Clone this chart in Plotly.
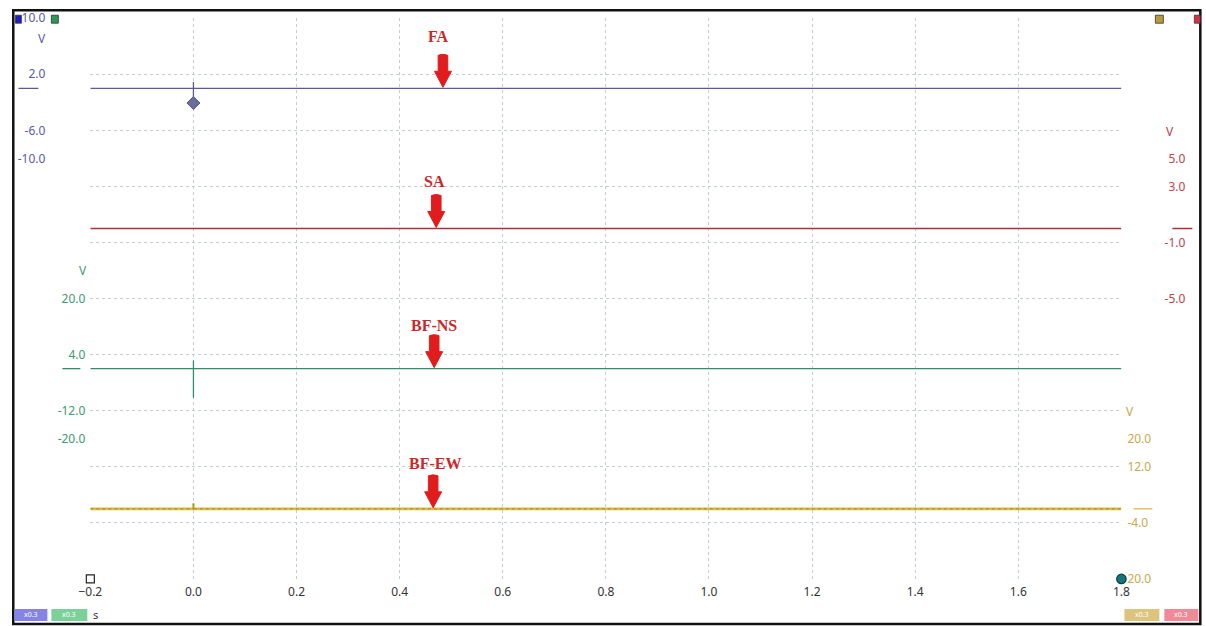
import plotly.graph_objects as go

# Measured mapping from figure pixels to the photographed window:
# window = A * figure + B  (per axis). Layout positions below are given in
# window pixels and converted to figure pixels.
AX, BX = 0.9836, 11.6
AY, BY = 0.972, 8.8
FW, FH = 1215, 635

# ---------------- data ----------------
time_ticks = [-0.2, 0.0, 0.2, 0.4, 0.6, 0.8, 1.0, 1.2, 1.4, 1.6, 1.8]

fa_x = [-0.2, 0.0, 0.0, 0.0, 0.0, 1.8]
fa_y = [0.0, 0.0, 0.9, -1.3, 0.0, 0.0]

sa_x = [-0.2, 1.8]
sa_y = [0.0, 0.0]

bfns_x = [-0.2, 0.0, 0.0, 0.0, 0.0, 1.8]
bfns_y = [0.0, 0.0, 2.3, -8.3, 0.0, 0.0]

bfew_x = [-0.2, 0.0, 0.0, 0.0, 1.8]
bfew_y = [0.0, 0.0, 1.5, 0.0, 0.0]

trig_x = [0.0]
trig_y = [-2.1]

fa_ticks = [10, 2, -6, -10]
fa_ticktext = ["10.0", "2.0", "-6.0", "-10.0"]
sa_ticks = [5, 3, -1, -5]
sa_ticktext = ["5.0", "3.0", "-1.0", "-5.0"]
ns_ticks = [20, 4, -12, -20]
ns_ticktext = ["20.0", "4.0", "-12.0", "-20.0"]
ew_ticks = [20, 12, -4, -20]
ew_ticktext = ["20.0", "12.0", "-4.0", "20.0"]

labels = ["FA", "SA", "BF-NS", "BF-EW"]
label_x = [0.476, 0.467, 0.467, 0.469]
arrow_x = [0.484, 0.471, 0.467, 0.465]

# ---------------- style ----------------
C_BLUE = "#5a5a96"
C_RED = "#a8323e"
C_GREEN = "#2f8f6a"
C_YEL = "#d8bc40"
T_BLUE = "#5a5aa8"
T_RED = "#c0404c"
T_GREEN = "#3c9a70"
T_YEL = "#c8a84c"
GRID = "#c4ccd6"
ARROW = "#e01c1c"

def fx(r):
    return (r - BX) / AX

def fy(r):
    return (r - BY) / AY

def px(r):
    return fx(r) / FW

def py(r):
    return 1 - fy(r) / FH

XDOM = [px(90), px(1122)]
YDOM = [py(578), py(18)]

fig = go.Figure()

fig.add_trace(go.Scatter(x=fa_x, y=fa_y, yaxis="y2", mode="lines",
                         line=dict(color=C_BLUE, width=1.3), showlegend=False))
fig.add_trace(go.Scatter(x=sa_x, y=sa_y, yaxis="y3", mode="lines",
                         line=dict(color=C_RED, width=1.3), showlegend=False))
fig.add_trace(go.Scatter(x=bfns_x, y=bfns_y, yaxis="y4", mode="lines",
                         line=dict(color=C_GREEN, width=1.3), showlegend=False))
fig.add_trace(go.Scatter(x=bfew_x, y=bfew_y, yaxis="y5", mode="lines",
                         line=dict(color=C_YEL, width=2.6), showlegend=False))
fig.add_trace(go.Scatter(x=bfew_x, y=bfew_y, yaxis="y5", mode="lines",
                         line=dict(color="#a88a28", width=1, dash="dot"), showlegend=False))
fig.add_trace(go.Scatter(x=trig_x, y=trig_y, yaxis="y2", mode="markers",
                         marker=dict(symbol="diamond", size=10, color="#6e6e9c",
                                     line=dict(color="#55557f", width=1)),
                         showlegend=False))
# cursor markers at the time axis ends
fig.add_trace(go.Scatter(x=[time_ticks[0]], y=[0], yaxis="y", mode="markers",
                         marker=dict(symbol="square", size=8, color="white",
                                     line=dict(color="#222", width=1.2)),
                         cliponaxis=False, showlegend=False))
fig.add_trace(go.Scatter(x=[time_ticks[-1]], y=[0], yaxis="y", mode="markers",
                         marker=dict(symbol="circle", size=9.5, color="#17767a",
                                     line=dict(color="#0d3f42", width=1.2)),
                         cliponaxis=False, showlegend=False))

FONT = "Noto Sans"
tickfont = dict(family=FONT, size=12)

fig.update_layout(
    width=FW, height=FH,
    margin=dict(l=0, r=0, t=0, b=0),
    paper_bgcolor="white", plot_bgcolor="white",
    xaxis=dict(domain=XDOM, range=[-0.2, 1.8], tickvals=time_ticks,
               tickformat=".1f", showgrid=True, gridcolor=GRID,
               griddash="3px,3px", gridwidth=1, zeroline=False, showline=False,
               ticks="", ticklabelstandoff=4,
               tickfont=dict(family=FONT, size=12, color="#333333")),
    yaxis=dict(domain=YDOM, range=[0, 10], dtick=1, showgrid=True,
               gridcolor=GRID, griddash="3px,3px", zeroline=False,
               showticklabels=False, ticks="", showline=False),
    yaxis2=dict(overlaying="y", anchor="free", position=px(45), side="left",
                range=[-70, 10], tickvals=fa_ticks, ticktext=fa_ticktext,
                showgrid=False, zeroline=False, ticks="",
                tickfont=dict(tickfont, color=T_BLUE)),
    yaxis3=dict(overlaying="y", anchor="free", position=px(1189), side="right",
                ticklabelposition="inside",
                range=[-25, 15], tickvals=sa_ticks, ticktext=sa_ticktext,
                showgrid=False, zeroline=False, ticks="",
                tickfont=dict(tickfont, color=T_RED)),
    yaxis4=dict(overlaying="y", anchor="x", side="left",
                range=[-60, 100], tickvals=ns_ticks, ticktext=ns_ticktext,
                showgrid=False, zeroline=False, ticks="", ticklabelstandoff=4,
                tickfont=dict(tickfont, color=T_GREEN)),
    yaxis5=dict(overlaying="y", anchor="x", side="right",
                range=[-20, 140], tickvals=ew_ticks, ticktext=ew_ticktext,
                showgrid=False, zeroline=False, ticks="", ticklabelstandoff=5,
                tickfont=dict(tickfont, color=T_YEL)),
)

shapes = []
annos = []

def note(xx, yy, text, size, color, family=FONT):
    annos.append(dict(xref="paper", yref="paper", x=px(xx), y=py(yy), text=text,
                      xanchor="center", yanchor="middle", showarrow=False,
                      font=dict(family=family, size=size, color=color)))

# outer frame
shapes.append(dict(type="rect", xref="paper", yref="paper",
                   x0=1.3 / FW, x1=px(1201), y0=py(623), y1=1 - 1.3 / FH,
                   line=dict(color="#111", width=2.5), fillcolor="rgba(0,0,0,0)"))

# zero level markers
zero_marks = [("y2", 18, 38, C_BLUE), ("y4", 62, 80, C_GREEN),
              ("y3", 1173, 1193, C_RED), ("y5", 1134, 1153, C_YEL)]
for ax, a, b, c in zero_marks:
    shapes.append(dict(type="line", xref="paper", yref=ax, x0=px(a), x1=px(b),
                       y0=0, y1=0, line=dict(color=c, width=1.3)))

# unit labels
for (xx, yy, c) in [(42, 38, T_BLUE), (83, 270, T_GREEN), (1171, 131, T_RED), (1131, 411, T_YEL)]:
    note(xx, yy, "V", 12, c)

# channel squares
for (a, b, c) in [(15, 21, "#1c1ccc"), (51, 58, "#2a9a55"), (1156, 1164, "#b89a3a"), (1195, 1201, "#d83040")]:
    shapes.append(dict(type="rect", xref="paper", yref="paper", x0=px(a), x1=px(b),
                       y0=py(23), y1=py(15), fillcolor=c,
                       line=dict(color="#333", width=0.8)))

# bottom scale boxes
for (a, b, c) in [(14, 47, "#8484e6"), (51, 87, "#7cd09a"), (1125, 1160, "#dcc47c"), (1165, 1199, "#f08a98")]:
    shapes.append(dict(type="rect", xref="paper", yref="paper", x0=px(a), x1=px(b),
                       y0=py(620), y1=py(608), fillcolor=c, line=dict(width=0)))
    note((a + b) / 2, 614, "x0.3", 7, "white")
note(95, 614, "s", 11, "#333")

# channel labels and arrows
yrefs = ["y2", "y3", "y4", "y5"]
label_shift = [50, 46, 42, 44]
for lab, lx, ax_, yr, sh in zip(labels, label_x, arrow_x, yrefs, label_shift):
    annos.append(dict(xref="x", yref=yr, x=lx, y=0, yshift=sh / AY, text="<b>" + lab + "</b>",
                      xanchor="center", yanchor="middle", showarrow=False,
                      font=dict(family="Liberation Serif", size=16, color="#c8282c")))
    shapes.append(dict(type="path", xref="x", yref=yr, xsizemode="pixel", ysizemode="pixel",
                       xanchor=ax_, yanchor=0,
                       path="M0,1 L-8.5,17 L-4.8,17 L-4.8,33 Q0,35 4.8,33 L4.8,17 L8.5,17 Z",
                       fillcolor=ARROW, line=dict(color=ARROW, width=1)))

fig.update_layout(shapes=shapes, annotations=annos)
fig.write_html("out.html")
